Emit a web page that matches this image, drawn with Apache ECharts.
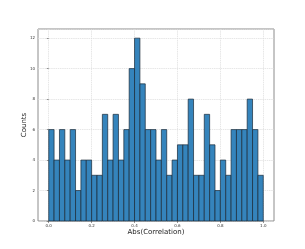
<!DOCTYPE html>
<html><head><meta charset="utf-8">
<script src="https://cdn.jsdelivr.net/npm/echarts@6/dist/echarts.min.js"></script>
<style>html,body{margin:0;padding:0;background:#fff}#c{width:305px;height:249px}</style>
</head><body><div id="c"></div>
<script>
// histogram bins: edges from 0.0 to 1.0, width 0.025
const binStart = 0.0;
const binWidth = 0.025;
const counts = [6,4,6,4,6,2,4,4,3,3, 7,4,7,4,6,10,12,9,6,6, 4,6,3,4,5,5,8,3,3,7, 5,2,4,3,6,6,6,8,6,3];
const xTicks = [0.0, 0.2, 0.4, 0.6, 0.8, 1.0];
const yTicks = [0, 2, 4, 6, 8, 10, 12];
const xLabel = 'Abs(Correlation)';
const yLabel = 'Counts';

const data = counts.map((c, i) => [binStart + i * binWidth, binStart + (i + 1) * binWidth, c]);

const chart = echarts.init(document.getElementById('c'), null, {renderer: 'canvas'});
chart.setOption({
  animation: false,
  grid: {left: 38, right: 31, top: 29, bottom: 28, show: true, borderColor: '#8c8c8c', borderWidth: 1, backgroundColor: 'transparent'},
  xAxis: {
    type: 'value', min: -0.05, max: 1.05,
    name: xLabel, nameLocation: 'middle', nameGap: 8, nameMoveOverlap: false,
    nameTextStyle: {fontSize: 7, color: '#222', fontFamily: 'DejaVu Sans'},
    axisLine: {show: false},
    axisTick: {show: true, length: 2, customValues: xTicks, lineStyle: {color: '#555', width: 0.6}},
    axisLabel: {customValues: xTicks, fontSize: 4, color: '#333', margin: 3, fontFamily: 'DejaVu Sans',
      formatter: v => v.toFixed(1)},
    splitLine: {show: true, lineStyle: {color: '#dcdcdc', width: 0.7, type: [1.5, 0.7]}}
  },
  yAxis: {
    type: 'value', min: 0, max: 12.6, interval: 2,
    name: yLabel, nameLocation: 'middle', nameGap: 10, nameRotate: 90, nameMoveOverlap: false,
    nameTextStyle: {fontSize: 7, color: '#222', fontFamily: 'DejaVu Sans'},
    axisLine: {show: false},
    axisTick: {show: true, length: 2, lineStyle: {color: '#555', width: 0.6}},
    axisLabel: {fontSize: 4, color: '#333', margin: 3, fontFamily: 'DejaVu Sans', showMaxLabel: false,
      formatter: v => (yTicks.indexOf(v) >= 0 ? String(v) : '')},
    splitLine: {show: true, lineStyle: {color: '#dcdcdc', width: 0.7, type: [1.5, 0.7]}}
  },
  series: [{
    type: 'custom',
    data: data,
    encode: {x: [0, 1], y: 2},
    renderItem: function (params, api) {
      const p0 = api.coord([api.value(0), api.value(2)]);
      const p1 = api.coord([api.value(1), 0]);
      return {
        type: 'rect',
        shape: {x: p0[0], y: p0[1], width: p1[0] - p0[0], height: p1[1] - p0[1]},
        style: {fill: '#3584bc', stroke: '#1a2a38', lineWidth: 0.7}
      };
    }
  }]
});
</script></body></html>
